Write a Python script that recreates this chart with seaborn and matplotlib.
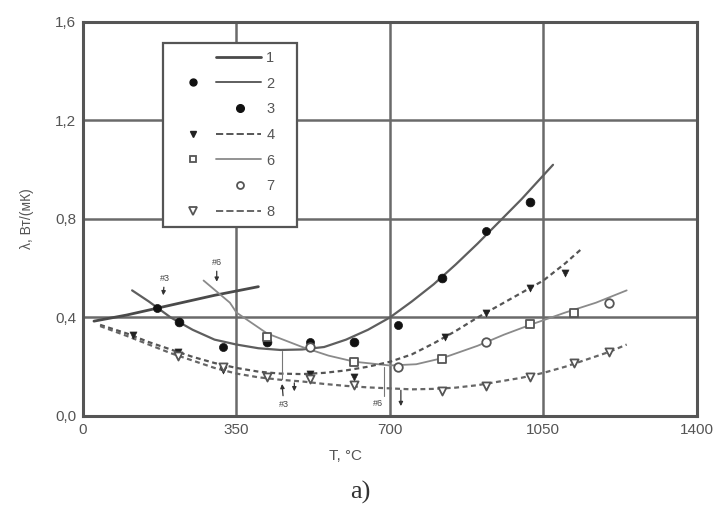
import numpy as np
import pandas as pd
import seaborn as sns
import matplotlib.pyplot as plt
from matplotlib.lines import Line2D
from matplotlib.legend_handler import HandlerLine2D

sns.set_theme(style="white")
plt.rcParams['font.family'] = ['Liberation Sans', 'DejaVu Sans']

# fit curves
t_fit1 = [25, 100, 200, 300, 400]
lam_fit1 = [0.385, 0.41, 0.45, 0.49, 0.525]

t_fit2 = [112, 150, 200, 250, 300, 350, 400, 450, 500, 550, 600, 650, 700,
          750, 800, 850, 900, 950, 1000, 1072]
lam_fit2 = [0.51, 0.465, 0.40, 0.35, 0.31, 0.29, 0.275, 0.268, 0.27, 0.28,
            0.31, 0.35, 0.40, 0.465, 0.535, 0.615, 0.70, 0.79, 0.88, 1.02]

t_fit4 = [39, 100, 150, 200, 250, 300, 350, 400, 450, 500, 550, 600, 650,
          700, 750, 800, 850, 900, 950, 1000, 1050, 1100, 1138]
lam_fit4 = [0.37, 0.335, 0.30, 0.27, 0.24, 0.215, 0.195, 0.18, 0.172, 0.17,
            0.175, 0.185, 0.20, 0.22, 0.25, 0.295, 0.345, 0.40, 0.45, 0.50,
            0.55, 0.62, 0.68]

t_fit6 = [275, 335, 350, 420, 500, 560, 620, 700, 760, 820, 900, 960, 1020,
          1100, 1170, 1240]
lam_fit6 = [0.55, 0.46, 0.42, 0.335, 0.28, 0.245, 0.22, 0.205, 0.21, 0.235,
            0.285, 0.33, 0.37, 0.42, 0.46, 0.51]

t_fit8 = [39, 100, 150, 200, 250, 300, 350, 400, 450, 500, 550, 600, 650,
          700, 750, 800, 850, 900, 950, 1000, 1050, 1100, 1150, 1200, 1240]
lam_fit8 = [0.365, 0.325, 0.29, 0.255, 0.225, 0.195, 0.172, 0.157, 0.147,
            0.14, 0.13, 0.122, 0.116, 0.112, 0.108, 0.11, 0.115, 0.125, 0.14,
            0.155, 0.175, 0.20, 0.23, 0.26, 0.29]

# measured points
t_pts2 = [169, 320, 518, 719, 920]
lam_pts2 = [0.44, 0.28, 0.30, 0.37, 0.75]
t_pts3 = [219, 420, 618, 819, 1020]
lam_pts3 = [0.38, 0.30, 0.30, 0.56, 0.87]
t_pts4 = [115, 217, 319, 518, 618, 826, 920, 1020, 1100]
lam_pts4 = [0.33, 0.26, 0.185, 0.17, 0.16, 0.32, 0.42, 0.52, 0.58]
t_pts6 = [420, 618, 819, 1020, 1120]
lam_pts6 = [0.32, 0.22, 0.23, 0.375, 0.42]
t_pts7 = [518, 719, 919, 1200]
lam_pts7 = [0.28, 0.20, 0.30, 0.46]
t_pts8 = [217, 319, 420, 518, 618, 819, 920, 1020, 1120, 1200]
lam_pts8 = [0.245, 0.20, 0.16, 0.15, 0.125, 0.10, 0.12, 0.16, 0.215, 0.26]

x_ticks = [0, 350, 700, 1050, 1400]
y_ticks = [0.0, 0.4, 0.8, 1.2, 1.6]
y_labels = ["0,0", "0,4", "0,8", "1,2", "1,6"]


class SplitHandler(HandlerLine2D):
    """Origin-like legend entry: symbol on the left, line on the right."""
    def create_artists(self, legend, orig, xdescent, ydescent, width, height,
                       fontsize, trans):
        y = height / 2 - ydescent
        x0 = -xdescent
        has_line = orig.get_linestyle() not in ("None", "", " ")
        has_mark = orig.get_marker() not in ("None", None, "", " ")
        arts = []
        if has_line:
            ln = Line2D([x0 + 0.50 * width, x0 + width], [y, y],
                        color=orig.get_color(), lw=orig.get_linewidth(),
                        ls=orig.get_linestyle(), transform=trans)
            arts.append(ln)
        if has_mark:
            mx = x0 + 0.24 * width if has_line else x0 + 0.76 * width
            mk = Line2D([mx], [y], ls="None", marker=orig.get_marker(),
                        markersize=orig.get_markersize(),
                        markerfacecolor=orig.get_markerfacecolor(),
                        markeredgecolor=orig.get_markeredgecolor(),
                        markeredgewidth=orig.get_markeredgewidth(),
                        transform=trans)
            arts.append(mk)
        return arts


fig = plt.figure(figsize=(7.23, 5.11), dpi=100)
ax = fig.add_axes([0.1148, 0.186, 0.849, 0.771])

grid_c = "#6a6a6a"
for v in x_ticks[1:-1]:
    ax.axvline(v, color=grid_c, lw=1.8, zorder=0)
for v in y_ticks[1:-1]:
    ax.axhline(v, color=grid_c, lw=1.8, zorder=0)

dash = (0, (2.2, 1.6))
fits = pd.DataFrame({"T": t_fit2, "lam": lam_fit2})
sns.lineplot(x=t_fit1, y=lam_fit1, ax=ax, color="#4a4a4a", lw=2.0)
sns.lineplot(data=fits, x="T", y="lam", ax=ax, color="#5e5e5e", lw=1.6)
sns.lineplot(x=t_fit6, y=lam_fit6, ax=ax, color="#8a8a8a", lw=1.3)
sns.lineplot(x=t_fit4, y=lam_fit4, ax=ax, color="#555555", lw=1.6,
             linestyle=dash)
sns.lineplot(x=t_fit8, y=lam_fit8, ax=ax, color="#666666", lw=1.6,
             linestyle=dash)

sns.scatterplot(x=t_pts2, y=lam_pts2, ax=ax, marker="o", s=34, color="#111111",
                edgecolor="#111111", zorder=5)
sns.scatterplot(x=t_pts3, y=lam_pts3, ax=ax, marker="o", s=40, color="#111111",
                edgecolor="#111111", zorder=5)
sns.scatterplot(x=t_pts4, y=lam_pts4, ax=ax, marker="v", s=26, color="#222222",
                edgecolor="#222222", zorder=5)
sns.scatterplot(x=t_pts6, y=lam_pts6, ax=ax, marker="s", s=38, facecolor="white",
                edgecolor="#555555", linewidth=1.3, zorder=5)
sns.scatterplot(x=t_pts7, y=lam_pts7, ax=ax, marker="o", s=38, facecolor="white",
                edgecolor="#555555", linewidth=1.3, zorder=5)
sns.scatterplot(x=t_pts8, y=lam_pts8, ax=ax, marker="v", s=34, facecolor="white",
                edgecolor="#555555", linewidth=1.3, zorder=5)

# annotations
ann = dict(fontsize=6.5, color="#444444", ha="center", va="center")
arr = dict(arrowstyle="-|>", color="#333333", lw=0.9, mutation_scale=6,
           shrinkA=1, shrinkB=0)
ax.annotate("#3", xy=(183, 0.49), xytext=(186, 0.56), arrowprops=arr, **ann)
ax.annotate("#6", xy=(305, 0.545), xytext=(305, 0.625), arrowprops=arr, **ann)
ax.plot([454, 454], [0.265, 0.15], color="#777777", lw=0.8)
ax.annotate("#3", xy=(454, 0.13), xytext=(458, 0.045), arrowprops=arr, **ann)
ax.annotate("", xy=(482, 0.10), xytext=(482, 0.14), arrowprops=arr)
ax.plot([686, 686], [0.2, 0.08], color="#777777", lw=0.8)
ax.text(672, 0.05, "#6", **ann)
ax.annotate("", xy=(725, 0.04), xytext=(725, 0.11), arrowprops=arr)

ax.set_xlim(0, 1400)
ax.set_ylim(0, 1.6)
ax.set_xticks(x_ticks)
ax.set_yticks(y_ticks)
ax.set_yticklabels(y_labels)
ax.set_xticks([175, 525, 875, 1225], minor=True)
ax.set_yticks([0.2, 0.6, 1.0, 1.4], minor=True)
ax.tick_params(axis="both", which="major", direction="in", length=4,
               width=1.5, color="#555555", labelsize=11, labelcolor="#555555",
               pad=5)
ax.tick_params(axis="both", which="minor", direction="in", length=2.5,
               width=1.0, color="#777777")
for sp in ax.spines.values():
    sp.set_color("#555555")
    sp.set_linewidth(2.2)

ax.set_xlabel("T, °C", fontsize=11, color="#555555")
ax.xaxis.set_label_coords(0.427, -0.085)
ax.set_ylabel("λ, Вт/(мК)", fontsize=10, color="#555555")
ax.yaxis.set_label_coords(-0.08, 0.5)

handles = [
    Line2D([], [], color="#4a4a4a", lw=2.0),
    Line2D([], [], color="#5e5e5e", lw=1.4, marker="o", markersize=5,
           markerfacecolor="#111111", markeredgecolor="#111111"),
    Line2D([], [], ls="None", marker="o", markersize=5.5,
           markerfacecolor="#111111", markeredgecolor="#111111"),
    Line2D([], [], color="#555555", lw=1.4, ls=dash, marker="v", markersize=5,
           markerfacecolor="#222222", markeredgecolor="#222222"),
    Line2D([], [], color="#8a8a8a", lw=1.3, marker="s", markersize=5,
           markerfacecolor="white", markeredgecolor="#555555",
           markeredgewidth=1.3),
    Line2D([], [], ls="None", marker="o", markersize=5,
           markerfacecolor="white", markeredgecolor="#555555",
           markeredgewidth=1.3),
    Line2D([], [], color="#666666", lw=1.4, ls=dash, marker="v", markersize=6,
           markerfacecolor="white", markeredgecolor="#555555",
           markeredgewidth=1.3),
]
labels = ["1", "2", "3", "4", "6", "7", "8"]
leg = ax.legend(handles, labels, handler_map={Line2D: SplitHandler()},
                loc="upper left", bbox_to_anchor=(0.130, 0.482, 0.219, 0.465),
                mode="expand",
                frameon=True, fancybox=False, fontsize=10.5, handlelength=6.2,
                handletextpad=0.35, labelspacing=0.8, borderpad=0.55,
                borderaxespad=0, labelcolor="#555555")
leg.get_frame().set_edgecolor("#555555")
leg.get_frame().set_linewidth(1.6)
leg.get_frame().set_alpha(1)

fig.text(0.498, 0.037, "a)", fontsize=19, family="Liberation Serif",
         color="#333333", ha="center", va="center")

fig.savefig("out.png", dpi=100)
